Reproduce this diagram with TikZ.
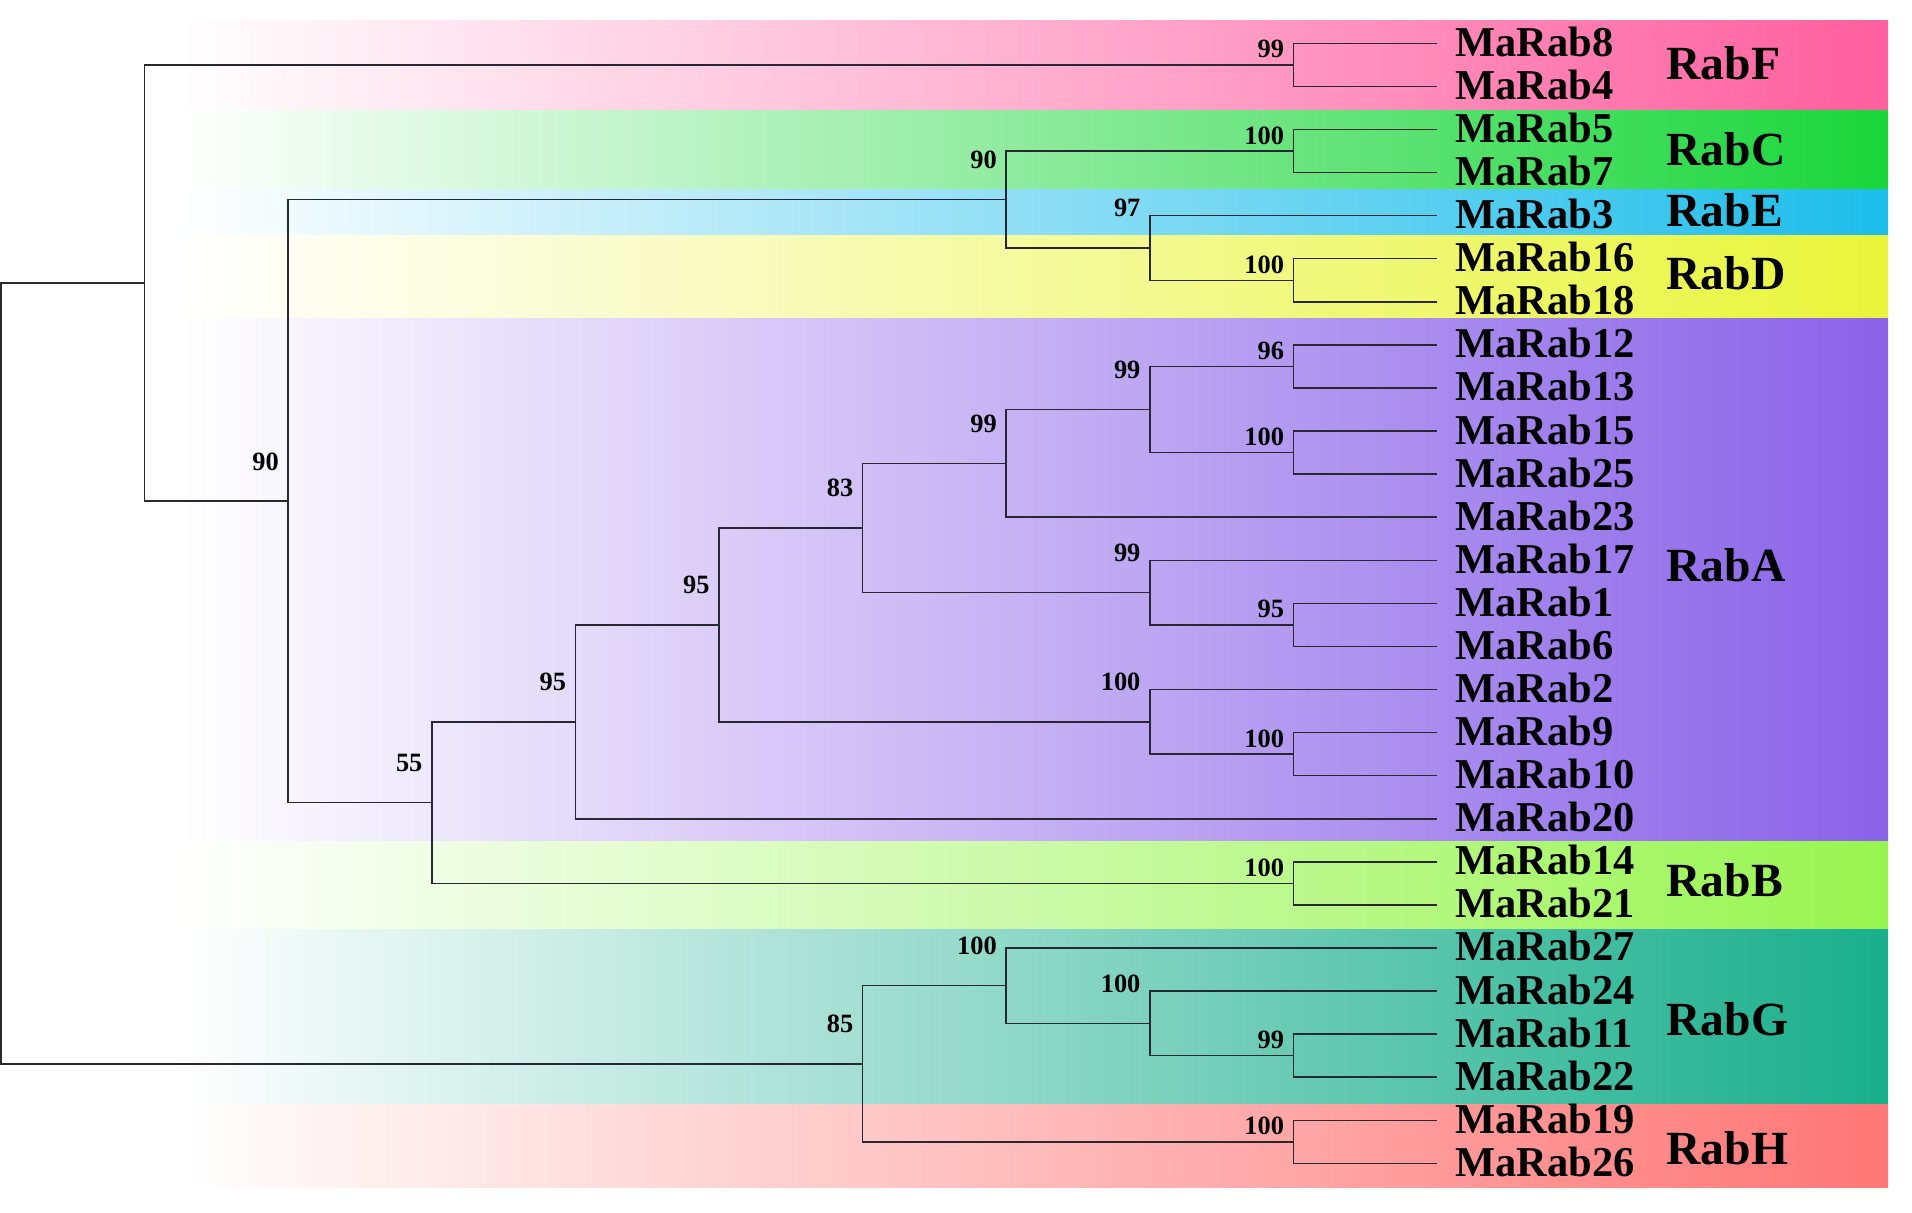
\documentclass[tikz,border=0pt]{standalone}
\usepackage{fontspec}
\setmainfont{Liberation Serif}
\definecolor{colF}{RGB}{255,95,158}
\definecolor{colC}{RGB}{26,214,58}
\definecolor{colE}{RGB}{28,189,234}
\definecolor{colD}{RGB}{233,245,58}
\definecolor{colA}{RGB}{138,98,232}
\definecolor{colB}{RGB}{152,245,80}
\definecolor{colG}{RGB}{25,175,140}
\definecolor{colH}{RGB}{255,118,118}
\definecolor{linecol}{RGB}{40,40,50}
\begin{document}
\begin{tikzpicture}[x=0.5pt,y=-0.5pt,
  br/.style={line width=0.75pt, draw=linecol},
  leaf/.style={anchor=base west, inner sep=0pt, font=\fontsize{21.25}{24}\selectfont\bfseries},
  clade/.style={anchor=base west, inner sep=0pt, font=\fontsize{23.8}{26}\selectfont\bfseries},
  bs/.style={anchor=base east, inner sep=0pt, font=\fontsize{13.2}{15}\selectfont\bfseries},
  band/.style={left color=white, right color=#1}
]
\useasboundingbox (0,0) rectangle (1912,1212);
\fill[white] (0,0) rectangle (1912,1212);
% clade bands
\shade[band=colF] (180,20.7) rectangle (1888,110);
\shade[band=colC] (180,110) rectangle (1888,189.5);
\shade[band=colE] (180,189.5) rectangle (1888,234);
\shade[band=colD] (180,235) rectangle (1888,318.5);
\shade[band=colA] (180,318.5) rectangle (1888,841);
\shade[band=colB] (180,841) rectangle (1888,929);
\shade[band=colG] (180,929) rectangle (1888,1104);
\shade[band=colH] (180,1104) rectangle (1888,1187);
% leaves
\foreach \n [count=\i from 0] in {8,4,5,7,3,16,18,12,13,15,25,23,17,1,6,2,9,10,20,14,21,27,24,11,22,19,26} {
  \coordinate (L\n) at (1437, {43.3+43.08*\i});
  \node[leaf] (T\n) at (1455, {56.3+43.08*\i}) {MaRab\n};
}
% internal nodes
\coordinate (pF) at (1293.4, 64.84);
\coordinate (pC) at (1293.4, 151.0);
\coordinate (pD) at (1293.4, 280.24);
\coordinate (nED) at (1149.8, 247.93);
\coordinate (nCED) at (1006.2, 199.47);
\coordinate (p1213) at (1293.4, 366.4);
\coordinate (p1525) at (1293.4, 452.56);
\coordinate (n4) at (1149.8, 409.48);
\coordinate (n5) at (1006.2, 463.33);
\coordinate (p16) at (1293.4, 624.88);
\coordinate (n17) at (1149.8, 592.57);
\coordinate (n83) at (862.6, 527.95);
\coordinate (p910) at (1293.4, 754.12);
\coordinate (n2) at (1149.8, 721.81);
\coordinate (n95a) at (719, 624.88);
\coordinate (n95b) at (575.4, 721.81);
\coordinate (pB) at (1293.4, 883.36);
\coordinate (n55) at (431.8, 802.59);
\coordinate (nCEDAB) at (288.2, 501.03);
\coordinate (nTop) at (144.6, 282.94);
\coordinate (p1122) at (1293.4, 1055.68);
\coordinate (nG2) at (1149.8, 1023.37);
\coordinate (nG) at (1006.2, 985.68);
\coordinate (pH) at (1293.4, 1141.84);
\coordinate (nGH) at (862.6, 1063.76);
\coordinate (root) at (1, 673.35);
% branches
\foreach \p/\a/\b in {root/nTop/nGH, nTop/pF/nCEDAB, pF/L8/L4, nCEDAB/nCED/n55,
  nCED/pC/nED, pC/L5/L7, nED/L3/pD, pD/L16/L18, n55/n95b/pB, n95b/n95a/L20,
  n95a/n83/n2, n83/n5/n17, n5/n4/L23, n4/p1213/p1525, p1213/L12/L13,
  p1525/L15/L25, n17/L17/p16, p16/L1/L6, n2/L2/p910, p910/L9/L10, pB/L14/L21,
  nGH/nG/pH, nG/L27/nG2, nG2/L24/p1122, p1122/L11/L22, pH/L19/L26} {
  \draw[br] (\a) -| (\p) |- (\b);
}
% bootstrap values
\foreach \c/\v in {pF/99, pC/100, pD/100, p1213/96, p1525/100, p16/95, p910/100, pB/100, p1122/99, pH/100} {
  \node[bs] (b\c) at ([shift={(-9,-7)}]\c) {\v};
}
\foreach \c/\v in {nCED/90, nED/97, n4/99, n5/99, n83/83, n17/99, n2/100, n95a/95, n95b/95, n55/55, nCEDAB/90, nG/100, nG2/100, nGH/85} {
  \node[bs] (b\c) at ([shift={(-9,-31)}]\c) {\v};
}
% clade names
\node[clade] (cF) at (1666,79.3) {RabF};
\node[clade] (cC) at (1666,165.7) {RabC};
\node[clade] (cE) at (1666,226.7) {RabE};
\node[clade] (cD) at (1666,289.3) {RabD};
\node[clade] (cA) at (1666,581.7) {RabA};
\node[clade] (cB) at (1666,896.7) {RabB};
\node[clade] (cG) at (1666,1035) {RabG};
\node[clade] (cH) at (1666,1164) {RabH};
\end{tikzpicture}
\end{document}
